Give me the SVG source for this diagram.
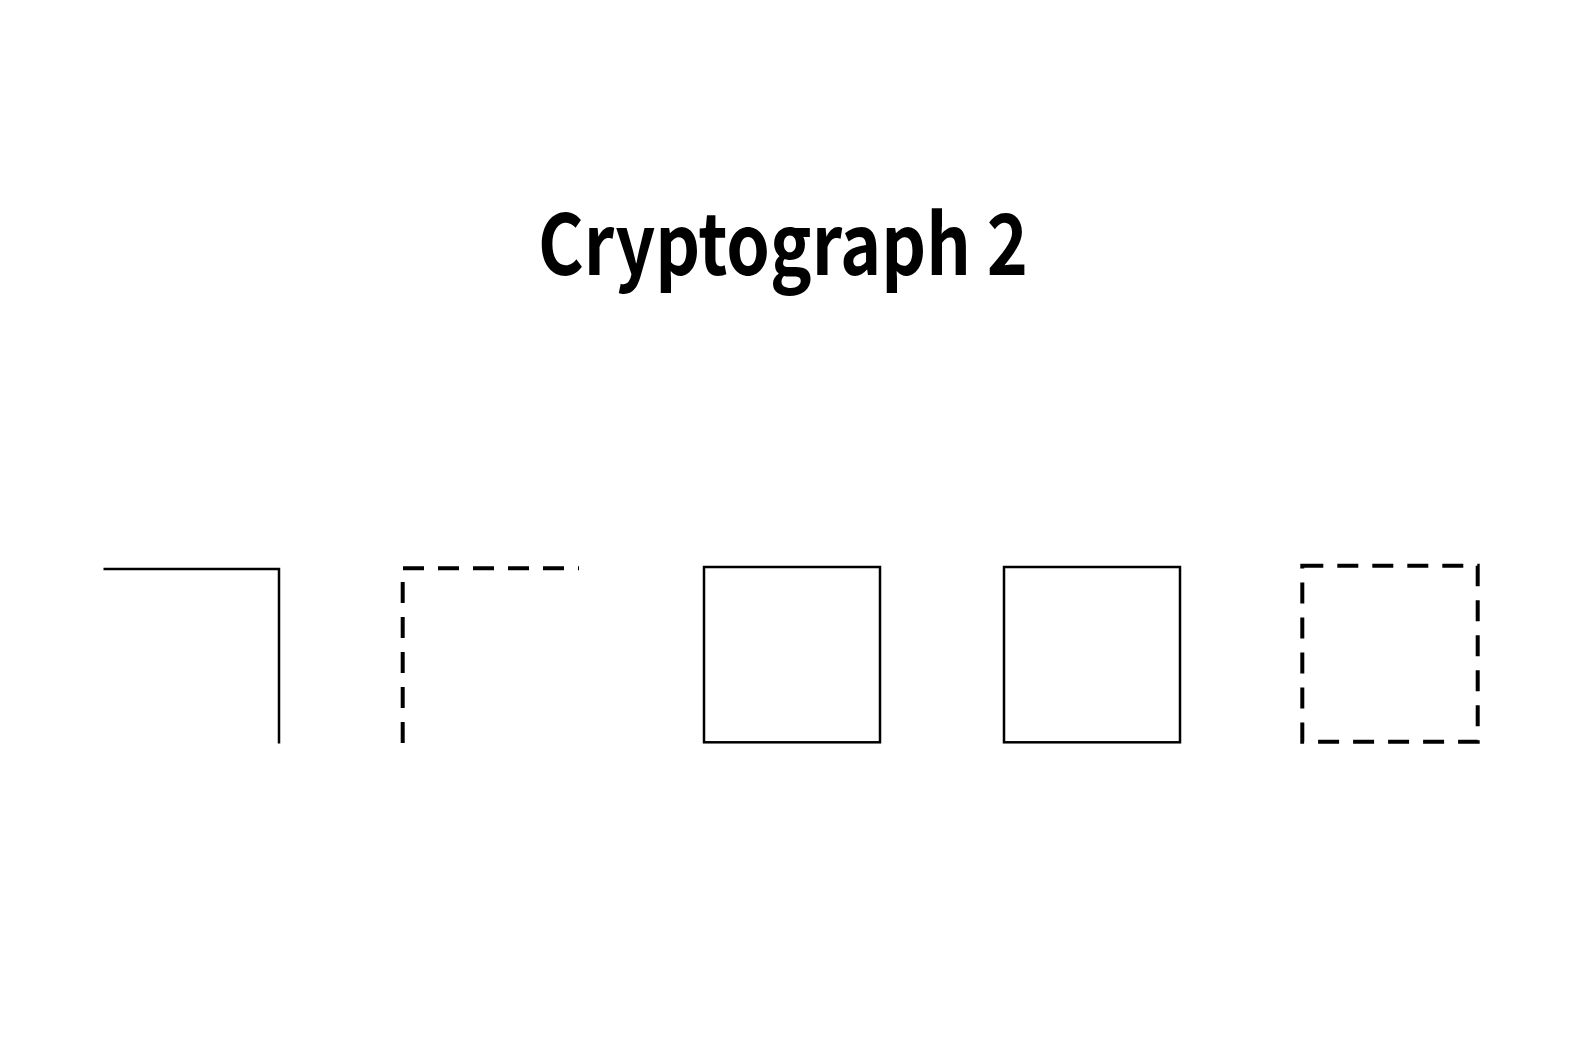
<svg xmlns="http://www.w3.org/2000/svg" width="1584" height="1058" viewBox="0 0 1584 1058">
<style>
.title{font-family:"Noto Sans CJK JP","Noto Sans",sans-serif;font-weight:bold;font-size:84px;fill:#000}
.solid{fill:none;stroke:#000;stroke-width:2.5}
.dashed{fill:none;stroke:#000;stroke-width:4;stroke-dasharray:21 14}
</style>
<rect width="1584" height="1058" fill="#fff"/>
<g id="title"><text class="title" x="783" y="275" text-anchor="middle" textLength="490" lengthAdjust="spacingAndGlyphs">Cryptograph 2</text></g>
<g id="shape1"><path class="solid" d="M103.5,569 L279,569 L279,743.5"/></g>
<g id="shape2"><path class="dashed" d="M402.7,743 L402.7,568.3 L579,568.3"/></g>
<g id="shape3"><rect class="solid" x="704" y="567" width="176" height="175.3"/></g>
<g id="shape4"><rect class="solid" x="1004" y="567" width="176" height="175.3"/></g>
<g id="shape5"><rect class="dashed" x="1302.3" y="565.7" width="175.4" height="176"/></g>
<g id="connectors"></g>
</svg>
